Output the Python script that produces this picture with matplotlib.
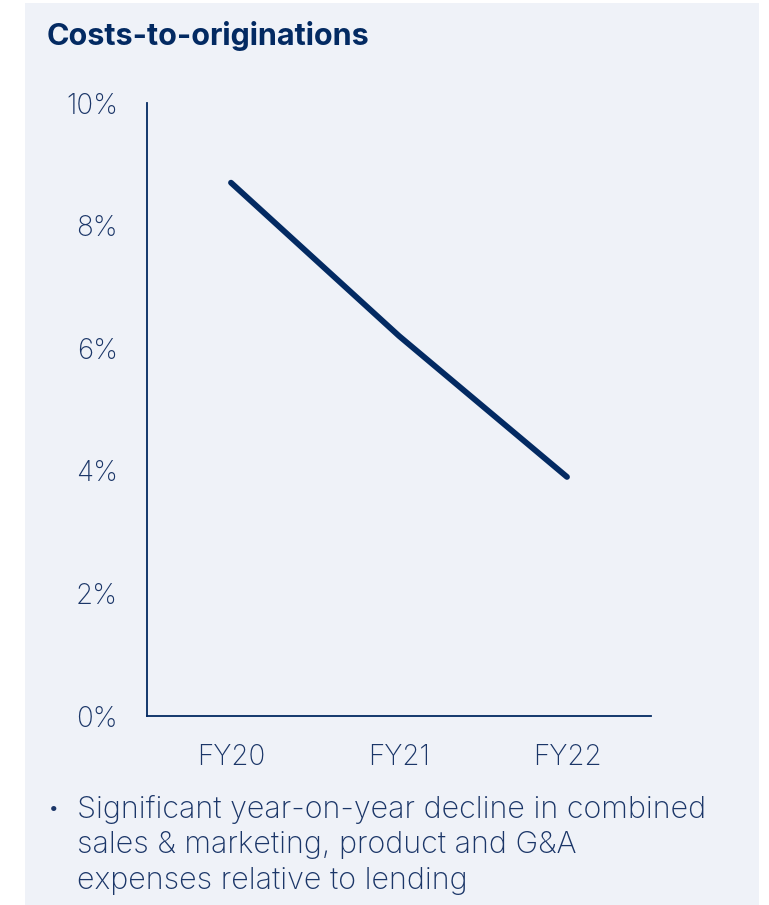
import matplotlib
matplotlib.use("Agg")
import matplotlib.pyplot as plt
from matplotlib.patches import Rectangle

# Data
years = ["FY20", "FY21", "FY22"]
cost_ratio = [8.7, 6.2, 3.9]   # costs-to-originations, %
y_ticks = [0, 2, 4, 6, 8, 10]
y_tick_labels = ["0%", "2%", "4%", "6%", "8%", "10%"]

title = "Costs-to-originations"
note = ("Significant year-on-year decline in combined\n"
        "sales & marketing, product and G&A\n"
        "expenses relative to lending")

NAVY = "#032a62"
TEXT = "#1b3668"
PANEL = "#eff2f8"

W, H = 769, 905
fig = plt.figure(figsize=(W / 100, H / 100), dpi=100)
fig.patch.set_facecolor("white")

# light panel behind everything
fig.patches.append(Rectangle((25 / W, 0), (759 - 25) / W, 1 - 3 / H,
                             transform=fig.transFigure, facecolor=PANEL,
                             edgecolor="none", zorder=-5))

# axes: x from 147 to 651 px, y from 103 (10%) to 716 (0%)
left, right = 147 / W, 651 / W
top, bottom = 1 - 103 / H, 1 - 716 / H
ax = fig.add_axes([left, bottom, right - left, top - bottom])
ax.set_zorder(2)
ax.set_facecolor("none")

x = list(range(len(years)))
ax.plot(x, cost_ratio, color=NAVY, lw=4.2, solid_capstyle="round",
        solid_joinstyle="round", clip_on=False)

ax.set_xlim(-0.5, 2.5)
ax.set_ylim(0, 10)
ax.set_yticks(y_ticks)
ax.set_yticklabels(y_tick_labels)
ax.set_xticks(x)
ax.set_xticklabels(years)

for s in ["top", "right"]:
    ax.spines[s].set_visible(False)
for s in ["left", "bottom"]:
    ax.spines[s].set_color(NAVY)
    ax.spines[s].set_linewidth(1.3)

ax.tick_params(axis="both", length=0, colors=TEXT, labelsize=20)
ax.tick_params(axis="y", pad=21)
ax.tick_params(axis="x", pad=20)
for lab in ax.get_xticklabels() + ax.get_yticklabels():
    lab.set_fontfamily("Inter")
    lab.set_fontweight("light")

fig.text(47 / W, 1 - 36 / H, title, fontsize=22, fontweight="bold",
         family="Inter", color=NAVY, va="center", ha="left", zorder=3)

fig.text(49 / W, 1 - 808 / H, "•", fontsize=12, family="Inter",
         color=TEXT, va="center", ha="left", zorder=3)
fig.text(77 / W, 1 - 795 / H, note, fontsize=22, family="Inter",
         fontweight="light", color=TEXT, va="top", ha="left",
         linespacing=1.33, zorder=3)

fig.savefig("out.png", dpi=100, facecolor=fig.get_facecolor())
